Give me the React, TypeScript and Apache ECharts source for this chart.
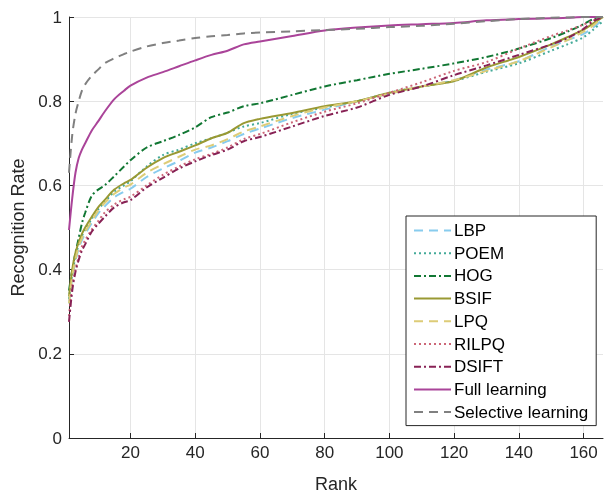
import React, { useEffect, useRef } from "react";
import * as echarts from "echarts";

const ranks = [1, 2, 3, 4, 5, 6, 8, 10, 12, 15, 18, 20, 25, 30, 35, 40, 45, 50, 55, 60, 70, 80, 90, 100, 110, 120, 130, 140, 150, 155, 160, 163, 166];

const lbp = [0.32, 0.38, 0.42, 0.45, 0.47, 0.485, 0.51, 0.533, 0.55, 0.572, 0.585, 0.592, 0.62, 0.64, 0.658, 0.678, 0.69, 0.705, 0.722, 0.735, 0.76, 0.78, 0.8, 0.818, 0.835, 0.85, 0.875, 0.895, 0.93, 0.945, 0.96, 0.975, 0.995];
const poem = [0.33, 0.39, 0.43, 0.46, 0.48, 0.495, 0.52, 0.543, 0.56, 0.585, 0.6, 0.61, 0.645, 0.672, 0.685, 0.7, 0.712, 0.725, 0.74, 0.748, 0.77, 0.785, 0.8, 0.82, 0.835, 0.848, 0.87, 0.89, 0.92, 0.935, 0.952, 0.97, 0.99];
const hog = [0.35, 0.4, 0.44, 0.475, 0.51, 0.535, 0.575, 0.59, 0.6, 0.622, 0.645, 0.66, 0.69, 0.705, 0.72, 0.738, 0.762, 0.773, 0.788, 0.795, 0.815, 0.835, 0.85, 0.865, 0.877, 0.89, 0.905, 0.925, 0.95, 0.965, 0.983, 0.995, 1];
const bsif = [0.336, 0.4, 0.44, 0.465, 0.485, 0.5, 0.525, 0.548, 0.565, 0.59, 0.605, 0.613, 0.642, 0.665, 0.68, 0.695, 0.712, 0.725, 0.748, 0.758, 0.772, 0.788, 0.8, 0.82, 0.835, 0.848, 0.88, 0.905, 0.935, 0.952, 0.97, 0.985, 1];
const lpq = [0.32, 0.385, 0.425, 0.455, 0.475, 0.49, 0.515, 0.54, 0.558, 0.58, 0.595, 0.602, 0.63, 0.65, 0.668, 0.685, 0.695, 0.71, 0.728, 0.74, 0.765, 0.785, 0.8, 0.818, 0.835, 0.85, 0.872, 0.895, 0.928, 0.945, 0.965, 0.98, 1];
const rilpq = [0.29, 0.36, 0.4, 0.43, 0.455, 0.47, 0.495, 0.515, 0.535, 0.555, 0.567, 0.573, 0.6, 0.625, 0.645, 0.662, 0.675, 0.69, 0.71, 0.722, 0.75, 0.775, 0.795, 0.82, 0.845, 0.872, 0.893, 0.925, 0.955, 0.968, 0.982, 0.992, 1];
const dsift = [0.276, 0.35, 0.395, 0.423, 0.445, 0.46, 0.49, 0.508, 0.525, 0.548, 0.56, 0.565, 0.595, 0.618, 0.64, 0.657, 0.672, 0.685, 0.705, 0.715, 0.74, 0.765, 0.785, 0.815, 0.835, 0.862, 0.885, 0.91, 0.935, 0.95, 0.972, 0.99, 1];
const full = [0.494, 0.57, 0.63, 0.665, 0.685, 0.7, 0.73, 0.752, 0.775, 0.805, 0.825, 0.837, 0.856, 0.869, 0.883, 0.897, 0.91, 0.92, 0.935, 0.942, 0.955, 0.968, 0.975, 0.98, 0.983, 0.986, 0.992, 0.995, 0.997, 0.998, 1, 1, 1];
const selective = [0.63, 0.72, 0.77, 0.8, 0.825, 0.84, 0.86, 0.875, 0.89, 0.902, 0.912, 0.918, 0.93, 0.938, 0.944, 0.95, 0.954, 0.957, 0.961, 0.963, 0.966, 0.969, 0.972, 0.976, 0.979, 0.984, 0.99, 0.995, 0.998, 0.999, 1, 1, 1];

const xTicks = [20, 40, 60, 80, 100, 120, 140, 160];
const seriesNames = ["LBP", "POEM", "HOG", "BSIF", "LPQ", "RILPQ", "DSIFT", "Full learning", "Selective learning"];

const FONT = "'Liberation Sans', Arial, sans-serif";
const AX = "#262626";

export default function App() {
  const ref = useRef<HTMLDivElement>(null);
  useEffect(() => {
    if (!ref.current) return;
    const chart = echarts.init(ref.current, undefined, { renderer: "svg" });
    const values = [lbp, poem, hog, bsif, lpq, rilpq, dsift, full, selective];
    const colors = ["#88CCEE", "#44AA99", "#117733", "#999933", "#DDCC77", "#CC6677", "#882255", "#AA4499", "#808080"];
    const dashes: any[] = [[9, 6], [2, 3], [7, 3, 2, 3], "solid", [9, 6], [2, 3], [7, 3, 2, 3], "solid", [9, 6]];
    const series = values.map((v, i) => ({
      name: seriesNames[i],
      type: "line",
      data: ranks.map((r, j) => [r, v[j]]),
      showSymbol: false,
      symbol: "none",
      smooth: 0.3,
      lineStyle: { color: colors[i], width: 2, type: dashes[i] },
      itemStyle: { color: colors[i] },
      z: 2 + i,
    }));
    chart.setOption({
      animation: false,
      textStyle: { fontFamily: FONT },
      grid: { left: 69, right: 2, top: 17, bottom: 55, containLabel: false, outerBoundsMode: "none" },
      xAxis: {
        type: "value",
        min: 1,
        max: 166,
        name: "Rank",
        nameLocation: "middle",
        nameGap: 36.5,
        nameTextStyle: { fontSize: 18, lineHeight: 18, color: AX, fontFamily: FONT },
        axisLine: { show: true, onZero: false, lineStyle: { color: AX, width: 1 } },
        axisTick: { show: true, inside: true, length: 5, lineStyle: { color: AX }, customValues: xTicks },
        axisLabel: { color: AX, fontSize: 17, margin: 6, fontFamily: FONT, customValues: xTicks },
        splitLine: { show: true, lineStyle: { color: "#e5e5e5", width: 1 } },
      },
      yAxis: {
        type: "value",
        min: 0,
        max: 1,
        interval: 0.2,
        name: "Recognition Rate",
        nameLocation: "middle",
        nameGap: 32,
        nameTextStyle: { fontSize: 18, color: AX, fontFamily: FONT },
        axisLine: { show: true, lineStyle: { color: AX, width: 1 } },
        axisTick: { show: true, inside: true, length: 5, lineStyle: { color: AX } },
        axisLabel: { color: AX, fontSize: 17, margin: 7, fontFamily: FONT, formatter: (v: number) => String(Math.round(v * 10) / 10) },
        splitLine: { show: true, lineStyle: { color: "#e5e5e5", width: 1 } },
      },
      legend: {
        orient: "vertical",
        left: 406,
        top: 216,
        padding: [6, 8, 5, 7],
        itemWidth: 37,
        itemHeight: 17,
        itemGap: 5.7,
        backgroundColor: "#ffffff",
        borderColor: AX,
        borderWidth: 1,
        borderRadius: 0,
        itemStyle: { opacity: 0, borderWidth: 0 },
        textStyle: { fontSize: 17, color: "#000", fontFamily: FONT, padding: [0, 0, 0, -2], lineHeight: 17 },
        data: seriesNames,
      },
      series,
    });
    return () => chart.dispose();
  }, []);
  return <div ref={ref} style={{ position: "fixed", left: 0, top: 0, width: 605, height: 493 }} />;
}
